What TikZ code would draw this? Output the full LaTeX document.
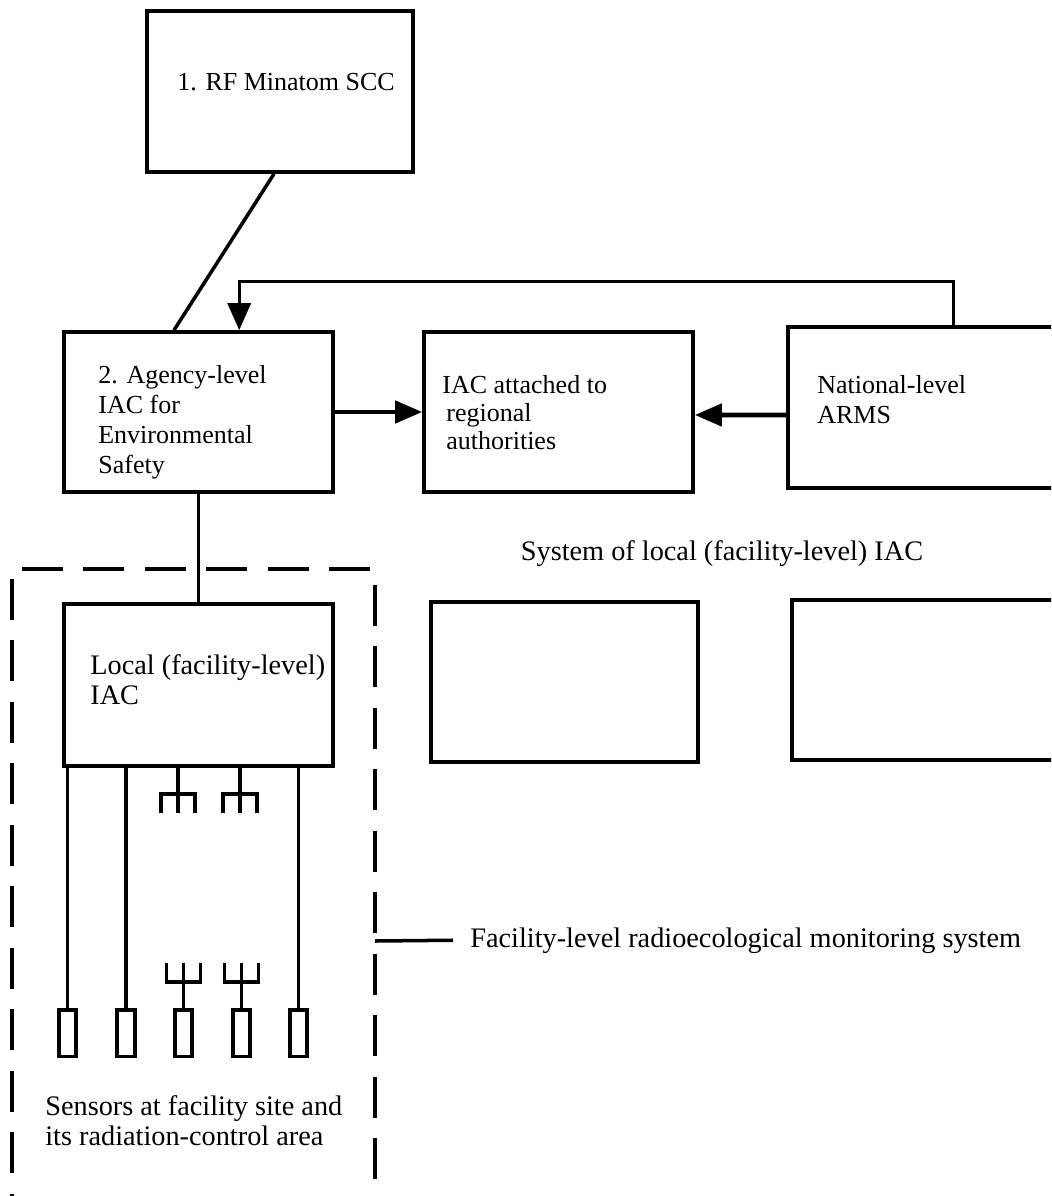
\documentclass[tikz,border=0pt]{standalone}
\usepackage{fontspec}
\setmainfont{Liberation Serif}
\usetikzlibrary{arrows.meta,calc}

\begin{document}
\begin{tikzpicture}[x=0.02cm, y=-0.02cm,
box/.style={draw, line width=2.1pt, minimum width=5.38cm, minimum height=3.2cm, inner sep=0pt},
sensor/.style={draw, line width=2pt, minimum width=0.35cm, minimum height=0.93cm, inner sep=0pt},
lbl/.style={inner sep=0pt, align=left, font=\fontsize{14.8}{17}\selectfont},
biglbl/.style={lbl, font=\fontsize{16.1}{17.4}\selectfont},
link/.style={line width=2pt},
arrow/.style={-{Triangle[length=0.54cm, width=0.44cm]}, line width=2.6pt},
retarrow/.style={-{Triangle[length=0.54cm, width=0.46cm]}, line width=1.8pt},
frame/.style={line width=2.5pt, dash pattern=on 0.82cm off 0.41cm, dash phase=1.03cm},
ant/.pic={\draw[link] (0,0) -- (0,45); \draw[link] (-17,45) |- (17,26) -- (17,45);}
]
\useasboundingbox (0,0) rectangle (1051,1196);
\clip (0,0) rectangle (1051,1196);

% boxes
\node[box, minimum width=5.32cm, minimum height=3.22cm] (scc) at (280,91.5) {};
\node[box] (agency) at (198.5,412) {};
\node[box] (regional) at (558.5,412) {};
\node[box, minimum width=5.64cm, minimum height=3.22cm] (arms) at (929,407.5) {};
\node[box, minimum height=3.24cm] (local) at (198.5,685) {};
\node[box, minimum width=5.34cm] (site1) at (564.5,682) {};
\node[box, minimum width=5.56cm] (site2) at (931,680) {};
\foreach \sx [count=\i] in {67.5,126,183.5,241.5,298.5}
  \node[sensor] (s\i) at (\sx,1033) {};

% texts
\node[lbl, anchor=base west] (scctext) at (177,91) {1. RF Minatom SCC};
\node[lbl, anchor=north west] (agencytext) at (98,365) {2. Agency-level\\IAC for\\Environmental\\Safety};
\node[lbl, anchor=north west, font=\fontsize{14.8}{15.9}\selectfont] (regtext) at (442,375) {IAC attached to\\\hspace{0.08cm}regional\\\hspace{0.08cm}authorities};
\node[lbl, anchor=north west] (armstext) at (817,375) {National-level\\ARMS};
\node[biglbl, anchor=base] (systext) at (722,560) {System of local (facility-level) IAC};
\node[biglbl, anchor=north west] (localtext) at (90,654) {Local (facility-level)\\IAC};
\node[biglbl, anchor=base west] (factext) at (470,947) {Facility-level radioecological monitoring system};
\node[biglbl, anchor=north west] (senstext) at (45,1095) {Sensors at facility site and\\its radiation-control area};

% connectors
\draw[link] ($(scc.south)+(-6,0)$) -- ($(agency.north)+(-24.5,0)$);
\draw[retarrow] ($(arms.north west)+(167,0)$) -- ++(0,-44) -| ($(agency.north west)+(177,0)$);
\draw[arrow] (agency.east) -- (regional.west);
\draw[arrow] ($(arms.west)+(0,7.5)$) -- ($(regional.east)+(0,3)$);
\draw[link] (agency.south) -- (local.north);
\foreach \i in {1,2,5}
  \draw[link] (s\i.north) -- (s\i.north |- local.south);
\pic at ($(local.south)+(-20.5,0)$) {ant};
\pic at ($(local.south)+(41.5,0)$) {ant};
\foreach \i in {3,4}
  \pic[yscale=-1] at (s\i.north) {ant};

% monitoring system frame
\coordinate (frametl) at (12,569);
\coordinate (frametr) at (375,569);
\draw[frame] (frametl) -- (12,1200);
\draw[frame] (frametl) -- (frametr) -- (375,1200);
\draw[link] (375,941) -- ($(factext.west)+(-17,0)$);
\end{tikzpicture}
\end{document}
